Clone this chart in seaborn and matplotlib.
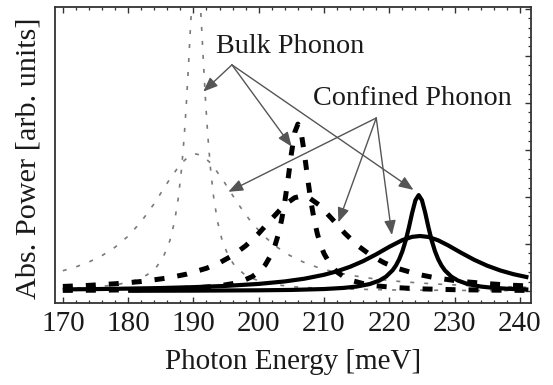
import matplotlib
matplotlib.use("Agg")
import matplotlib.pyplot as plt
import seaborn as sns
import pandas as pd

# ---- data (photon energy in meV, absorbed power in arb. units) ----
# Bulk phonon, dotted grey (narrow peak near 190 meV, runs off the top)
dot_narrow_x = [170, 175.4, 178.4, 180.9, 182.9, 184.4, 185.4, 186.4, 187.1, 187.7, 188.2, 188.6,
                188.9, 189.2, 189.5, 189.8, 190.1, 190.4, 190.7, 191.0, 191.3, 191.6, 191.9, 192.2,
                192.6, 193.1, 193.7, 194.4, 195.4, 196.4, 197.9, 199.9, 202.4, 205.4, 210.4, 220.4,
                230.4, 241.3]
dot_narrow_y = [0.048, 0.089, 0.138, 0.218, 0.343, 0.522, 0.727, 1.074, 1.472, 1.993, 2.625, 3.310,
                3.947, 4.685, 5.483, 6.242, 6.81, 7.02, 6.81, 6.242, 5.483, 4.685, 3.947, 3.310,
                2.625, 1.993, 1.472, 1.074, 0.727, 0.522, 0.343, 0.218, 0.138, 0.089, 0.050, 0.023,
                0.013, 0.008]
# Confined phonon, dotted grey (wide peak near 190 meV)
dot_wide_x = [170, 172, 174, 176, 178, 180, 182, 184, 186, 188, 189.4, 190.4, 191.4, 192.8, 194.8,
              196.8, 198.8, 200.8, 202.8, 204.8, 206.8, 208.8, 210.8, 213.8, 217.8, 222, 227, 233, 241.3]
dot_wide_y = [0.431, 0.513, 0.617, 0.753, 0.932, 1.167, 1.475, 1.860, 2.299, 2.700, 2.875, 2.915,
              2.875, 2.700, 2.299, 1.860, 1.475, 1.167, 0.932, 0.753, 0.617, 0.513, 0.431, 0.340,
              0.256, 0.197, 0.149, 0.112, 0.079]
# Bulk phonon, thick dashed (narrow peak near 206 meV)
dash_narrow_x = [170, 176, 182, 187, 191, 194, 196, 197.5, 199, 200, 201, 202, 202.5, 203, 203.5,
                 204, 204.5, 205, 205.5, 206, 206.5, 207, 207.5, 208, 208.5, 209, 209.5, 210, 211,
                 212, 213, 214.5, 216, 218, 221, 225, 230, 236, 241.3]
dash_narrow_y = [0.013, 0.018, 0.028, 0.045, 0.072, 0.110, 0.157, 0.214, 0.306, 0.404, 0.554, 0.796,
                 0.973, 1.205, 1.509, 1.903, 2.388, 2.919, 3.368, 3.55, 3.368, 2.919, 2.388, 1.903,
                 1.509, 1.205, 0.973, 0.796, 0.554, 0.404, 0.306, 0.214, 0.157, 0.110, 0.072, 0.045,
                 0.028, 0.018, 0.013]
# Confined phonon, thick dashed (wide peak near 207 meV)
dash_wide_x = [170, 174, 178, 182, 186, 189, 192, 194, 196, 198, 200, 202, 204, 205.5, 206.6, 207.7,
               209.2, 211.2, 213.2, 215.2, 217.2, 219.2, 221.2, 224.2, 227.2, 231.2, 235.2, 239.2, 241.3]
dash_wide_y = [0.097, 0.120, 0.154, 0.202, 0.276, 0.360, 0.484, 0.601, 0.756, 0.962, 1.226, 1.537,
               1.836, 1.984, 2.02, 1.984, 1.836, 1.537, 1.226, 0.962, 0.756, 0.601, 0.484, 0.360,
               0.276, 0.202, 0.154, 0.120, 0.107]
# Bulk phonon, thick solid (narrow peak near 224.5 meV, drawn from 180 meV)
sol_narrow_x = [180, 190, 200, 205, 210, 213, 215, 217, 218.5, 219.5, 220.5, 221, 221.5, 222, 222.5,
                223, 223.5, 224, 224.5, 225, 225.5, 226, 226.5, 227, 227.5, 228, 228.5, 229.5, 230.5,
                232, 234, 236, 238.5, 241.3]
sol_narrow_y = [0.005, 0.008, 0.015, 0.023, 0.042, 0.066, 0.095, 0.148, 0.223, 0.306, 0.441, 0.540,
                0.671, 0.844, 1.070, 1.351, 1.663, 1.93, 2.04, 1.93, 1.663, 1.351, 1.070, 0.844,
                0.671, 0.540, 0.441, 0.306, 0.223, 0.148, 0.095, 0.066, 0.045, 0.031]
# Confined phonon, thick solid (wide peak near 224.7 meV)
sol_wide_x = [170, 175, 180, 185, 190, 195, 200, 204, 207, 210, 212, 214, 216, 218, 220, 222, 223.5,
              224.7, 226, 227.5, 229, 231, 233, 235, 237, 239, 241.3]
sol_wide_y = [0.034, 0.041, 0.051, 0.063, 0.082, 0.109, 0.151, 0.204, 0.262, 0.345, 0.420, 0.516,
              0.636, 0.781, 0.940, 1.083, 1.152, 1.17, 1.149, 1.077, 0.971, 0.813, 0.664, 0.538,
              0.437, 0.358, 0.289]

x_ticks = [170, 180, 190, 200, 210, 220, 230, 240]
x_label = "Photon Energy [meV]"
y_label = "Abs. Power [arb. units]"
bulk_text = "Bulk Phonon"
conf_text = "Confined Phonon"
# arrow tips (data coords) and arrow origins
bulk_origin = (195.9, 4.81)
bulk_tips = [(191.5, 4.24), (205.05, 3.07), (223.7, 2.15)]
conf_origin = (218.0, 3.68)
conf_tips = [(195.35, 2.11), (212.2, 1.46), (220.4, 1.19)]

# ---- figure ----
sns.set_style("ticks")
plt.rcParams["font.family"] = ["Liberation Serif", "DejaVu Serif"]

fig = plt.figure(figsize=(5.53, 3.85), dpi=100)
W, H = 553, 385
ax = fig.add_axes([55 / W, (H - 303) / H, 476 / W, 296 / H])

def draw(xs, ys, color, lw, dashes=None):
    df = pd.DataFrame({"E": xs, "P": ys})
    sns.lineplot(data=df, x="E", y="P", ax=ax, color=color, linewidth=lw,
                 estimator=None, sort=False, legend=False)
    ln = ax.lines[-1]
    ln.set_solid_capstyle("butt")
    if dashes is not None:
        ln.set_dashes(dashes)
        ln.set_dash_capstyle("butt")

grey = "#7a7a7a"
draw(dot_narrow_x, dot_narrow_y, grey, 1.2, (2.4, 6.0))
draw(dot_wide_x, dot_wide_y, grey, 1.2, (2.4, 6.0))
draw(dash_narrow_x, dash_narrow_y, "black", 3.6, (2.0, 2.6))
draw(dash_wide_x, dash_wide_y, "black", 3.6, (2.0, 2.6))
draw(sol_wide_x, sol_wide_y, "black", 3.0)
draw(sol_narrow_x, sol_narrow_y, "black", 3.0)

ax.set_xlim(168.8, 241.7)
ax.set_ylim(-0.255, 6.04)
ax.set_xticks(x_ticks)
ax.set_xticks([v for v in range(170, 242, 2)], minor=True)
ax.set_yticks(range(0, 7))
ax.set_yticks([i * 0.2 for i in range(0, 31)], minor=True)
ax.tick_params(axis="both", which="both", direction="in", colors="#333333")
ax.tick_params(axis="x", which="both", top=True, bottom=True)
ax.tick_params(axis="y", which="both", left=False, right=True, labelleft=False, labelright=False)
ax.tick_params(which="major", length=4.5, width=1.0)
ax.tick_params(which="minor", length=2.5, width=0.9)
ax.tick_params(axis="x", which="major", labelsize=21, pad=5.5, labelcolor="#1a1a1a")
for s in ax.spines.values():
    s.set_visible(True)
    s.set_linewidth(1.3)
    s.set_color("#333333")

ax.set_xlabel(x_label, fontsize=21, color="#1a1a1a")
ax.set_ylabel(y_label, fontsize=21.8, color="#1a1a1a")
ax.xaxis.set_label_coords(0.5, -0.2)
ax.xaxis.label.set_va("center")
ax.yaxis.set_label_coords(-0.0567, 0.49)
ax.yaxis.label.set_va("center")

ax.text(193.4, 5.06, bulk_text, fontsize=20.3, color="#1a1a1a", ha="left", va="baseline")
ax.text(208.3, 3.96, conf_text, fontsize=20.3, color="#1a1a1a", ha="left", va="baseline")

aprops = dict(arrowstyle="-|>,head_length=0.55,head_width=0.22", color="#555555", lw=1.0,
              mutation_scale=16, shrinkA=0, shrinkB=0)
for tip in bulk_tips:
    ax.annotate("", xy=tip, xytext=bulk_origin, arrowprops=aprops)
for tip in conf_tips:
    ax.annotate("", xy=tip, xytext=conf_origin, arrowprops=aprops)

fig.savefig("out.png", dpi=100)
